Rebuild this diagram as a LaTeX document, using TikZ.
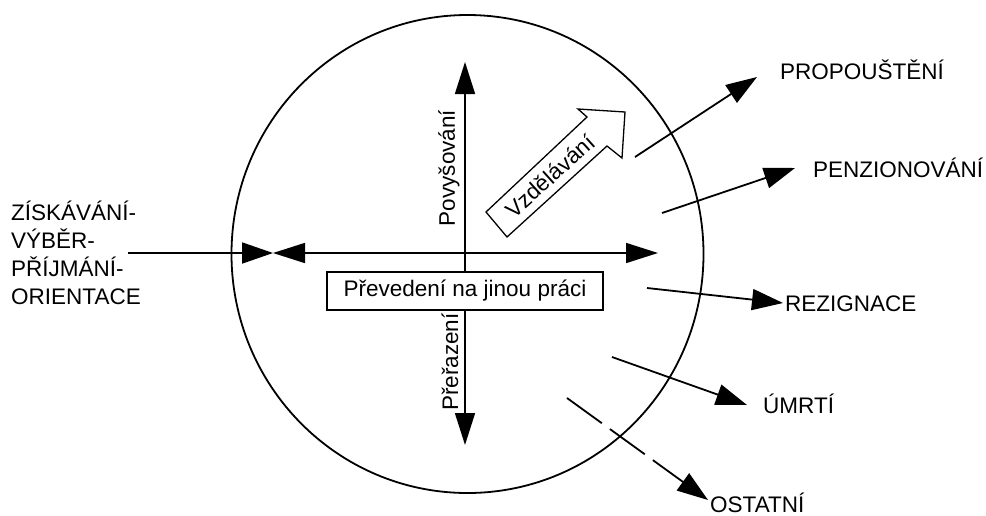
\documentclass[tikz,border=0pt]{standalone}
\usepackage{fontspec}
\setmainfont{Liberation Sans}
\usetikzlibrary{arrows.meta,shapes.geometric}

\tikzset{
  lbl/.style={inner sep=0pt, font=\fontsize{22.5}{27.8}\selectfont},
  flow/.style={line width=1.8pt, -{Triangle[length=31pt,width=21pt]}},
  both/.style={line width=1.6pt, {Triangle[length=32pt,width=20pt]}-{Triangle[length=32pt,width=20pt]}},
  vtxt/.style={lbl, rotate=90},
}

\begin{document}
\begin{tikzpicture}[x=1pt,y=-1pt]
\useasboundingbox (0,0) rectangle (986,515);

% the organisation
\node[ellipse, draw, line width=1.8pt, minimum width=472pt, minimum height=478pt, inner sep=0pt] (org) at (467.5,254) {};

% inner axes
\coordinate (up) at (465,62);
\coordinate (down) at (465,445);
\coordinate (hl) at (273,253);
\coordinate (hr) at (658,253);
\draw[both] (down) -- (up);
\draw[both] (hl) -- (hr);

\node[lbl, draw, line width=1.3pt, fill=white, minimum width=276pt, minimum height=38pt] (move) at (465,291) {Převedení na jinou práci};
\node[vtxt] (promo) at (449,168) {Povyšování};
\node[vtxt] (demo) at (450,362) {Přeřazení};

% hollow arrow: training
\draw[line width=1.3pt, line join=miter] (486,212) -- (587,117) -- (578,109) -- (625,112) -- (622,158) -- (607,146) -- (507,237) -- cycle;
\node[lbl, rotate=42] (train) at (550,176) {Vzdělávání};

% entry
\node[lbl, align=left, anchor=west] (entry) at (11,253) {ZÍSKÁVÁNÍ-\\VÝBĚR-\\PŘÍJMÁNÍ-\\ORIENTACE};
\coordinate (inS) at (128,253);
\draw[flow] (inS) -- (hl);

% exits
\node[lbl, anchor=base west] (fire) at (780,79) {PROPOUŠTĚNÍ};
\node[lbl, anchor=base west] (pens) at (813,177) {PENZIONOVÁNÍ};
\node[lbl, anchor=base west] (resi) at (785,311) {REZIGNACE};
\node[lbl, anchor=base west] (death) at (763,413) {ÚMRTÍ};
\node[lbl, anchor=base west] (other) at (710,512) {OSTATNÍ};

\coordinate (fireS) at (635,157);  \coordinate (fireE) at (757,77);
\coordinate (pensS) at (662,213);  \coordinate (pensE) at (795,168);
\coordinate (resiS) at (647,288);  \coordinate (resiE) at (783,303);
\coordinate (deathS) at (612,357); \coordinate (deathE) at (747,405);
\coordinate (otherS) at (567,398); \coordinate (otherE) at (708,500);

\draw[flow] (fireS) -- (fireE);
\draw[flow] (pensS) -- (pensE);
\draw[flow] (resiS) -- (resiE);
\draw[flow] (deathS) -- (deathE);
\draw[flow, dash pattern=on 43pt off 10pt] (otherS) -- (otherE);
\end{tikzpicture}
\end{document}
